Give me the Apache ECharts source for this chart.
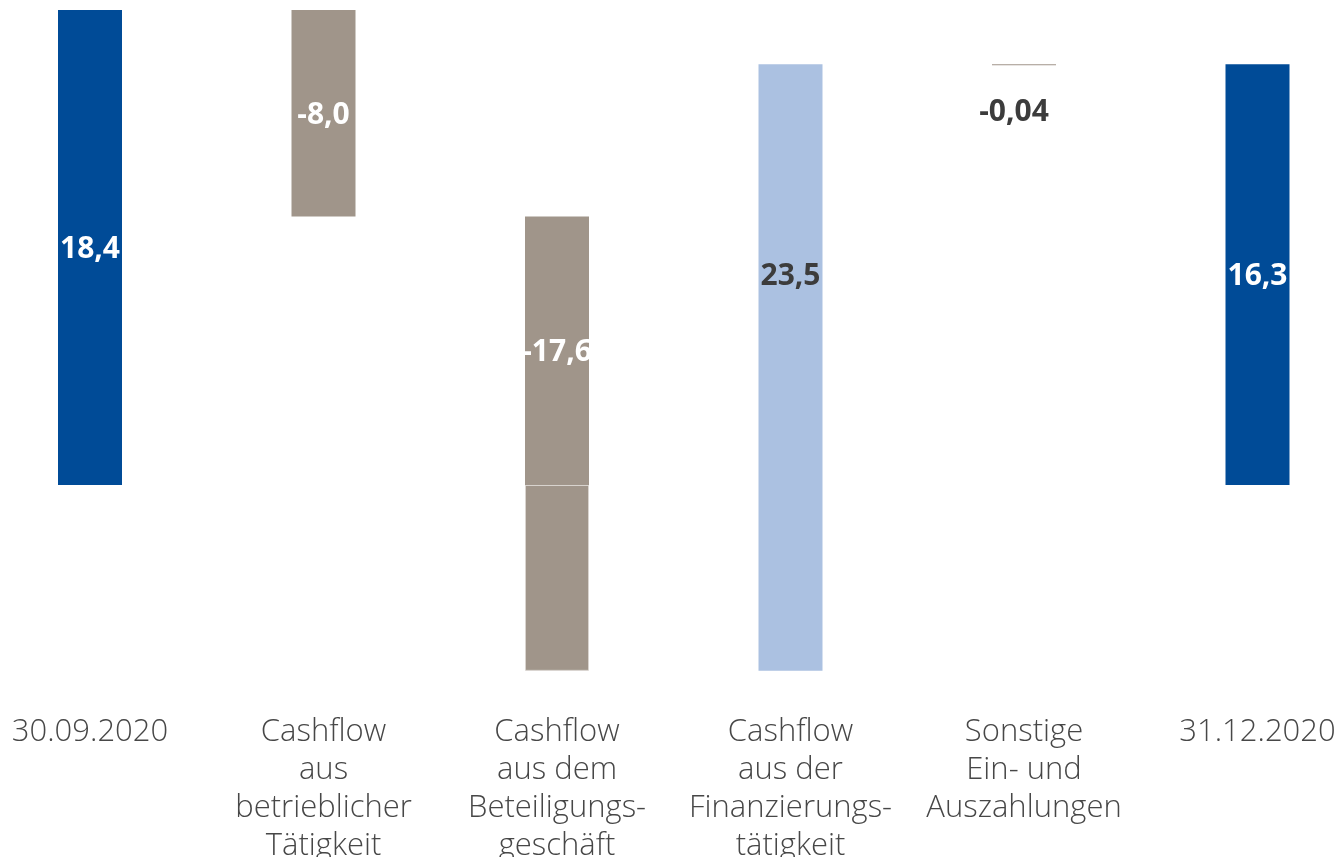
<!DOCTYPE html>
<html>
<head>
<meta charset="utf-8">
<script src="https://cdn.jsdelivr.net/npm/echarts@6/dist/echarts.min.js"></script>
<style>
html,body{margin:0;padding:0;background:#fff;}
#c{width:1342px;height:857px;}
</style>
</head>
<body>
<div id="c"></div>
<script>
const categories = ['30.09.2020', 'Cashflow\naus\nbetrieblicher\nTätigkeit', 'Cashflow\naus dem\nBeteiligungs-\ngeschäft', 'Cashflow\naus der\nFinanzierungs-\ntätigkeit', 'Sonstige\nEin- und\nAuszahlungen', '31.12.2020'];
const values = [18.4, -8.0, -17.6, 23.5, -0.04, 16.3];
const kinds = ['total', 'delta', 'delta', 'delta', 'delta', 'total'];
const valueLabels = ['18,4', '-8,0', '-17,6', '23,5', '-0,04', '16,3'];

const barColors = ['#004B97', '#A0958A', '#A0958A', '#ABC1E1', '#A0958A', '#004B97'];
const labelColors = ['#ffffff', '#ffffff', '#ffffff', '#3c3c3c', '#3c3c3c', '#ffffff'];

const basePos = [], pos = [], baseNeg = [], neg = [];
let run = 0;
values.forEach((v, i) => {
  let a, b;
  if (kinds[i] === 'total') { a = 0; b = v; run = v; }
  else { a = run; b = run + v; run = b; }
  const lo = Math.min(a, b), hi = Math.max(a, b);
  let bp = '-', p = '-', bn = '-', n = '-';
  if (lo >= 0) { if (lo > 0) bp = lo; p = hi - lo; }
  else if (hi <= 0) { if (hi < 0) bn = hi; n = lo - hi; }
  else { p = hi; n = lo; }
  basePos.push(bp); pos.push(p); baseNeg.push(bn); neg.push(n);
});

const tiny = (i) => Math.abs(values[i]) < 0.5;

const posData = pos.map((v, i) => ({
  value: v,
  itemStyle: { color: barColors[i] },
  label: {
    show: v !== '-',
    formatter: valueLabels[i],
    position: tiny(i) ? 'bottom' : 'inside',
    distance: tiny(i) ? 32 : 5,
    offset: tiny(i) ? [-10, 0] : [0, 2],
    color: labelColors[i]
  }
}));
const isNegDelta = (i) => kinds[i] === 'delta' && values[i] < 0;
const negData = neg.map((v, i) => ({
  value: v,
  itemStyle: { color: barColors[i], borderColor: isNegDelta(i) ? '#d9d4cf' : barColors[i], borderWidth: isNegDelta(i) ? 1 : 0 },
  label: { show: v !== '-' && pos[i] === '-', formatter: valueLabels[i], position: 'inside', color: labelColors[i] }
}));

const chart = echarts.init(document.getElementById('c'));
chart.setOption({
  animation: false,
  grid: { left: 90, right: 84.5, top: 10, bottom: 165.5, containLabel: false, outerBoundsMode: 'none' },
  xAxis: {
    type: 'category',
    data: categories,
    boundaryGap: false,
    axisLine: { show: false },
    axisTick: { show: false },
    axisLabel: {
      margin: 22,
      fontFamily: 'Open Sans',
      fontWeight: 300,
      fontSize: 31,
      lineHeight: 38,
      color: '#474747',
      interval: 0,
      align: 'center'
    }
  },
  yAxis: { type: 'value', min: -8, max: 18.4, show: false, splitLine: { show: false } },
  series: [
    { type: 'bar', stack: 'wf', data: basePos, barWidth: 64, clip: false, itemStyle: { color: 'transparent' }, silent: true },
    { type: 'bar', stack: 'wf', data: posData, barWidth: 64, clip: false,
      label: { fontFamily: 'Open Sans', fontWeight: 'bold', fontSize: 30 } },
    { type: 'bar', stack: 'wf', data: baseNeg, barWidth: 64, clip: false, itemStyle: { color: 'transparent' }, silent: true },
    { type: 'bar', stack: 'wf', data: negData, barWidth: 64, clip: false,
      label: { fontFamily: 'Open Sans', fontWeight: 'bold', fontSize: 30 } }
  ]
});
</script>
</body>
</html>
